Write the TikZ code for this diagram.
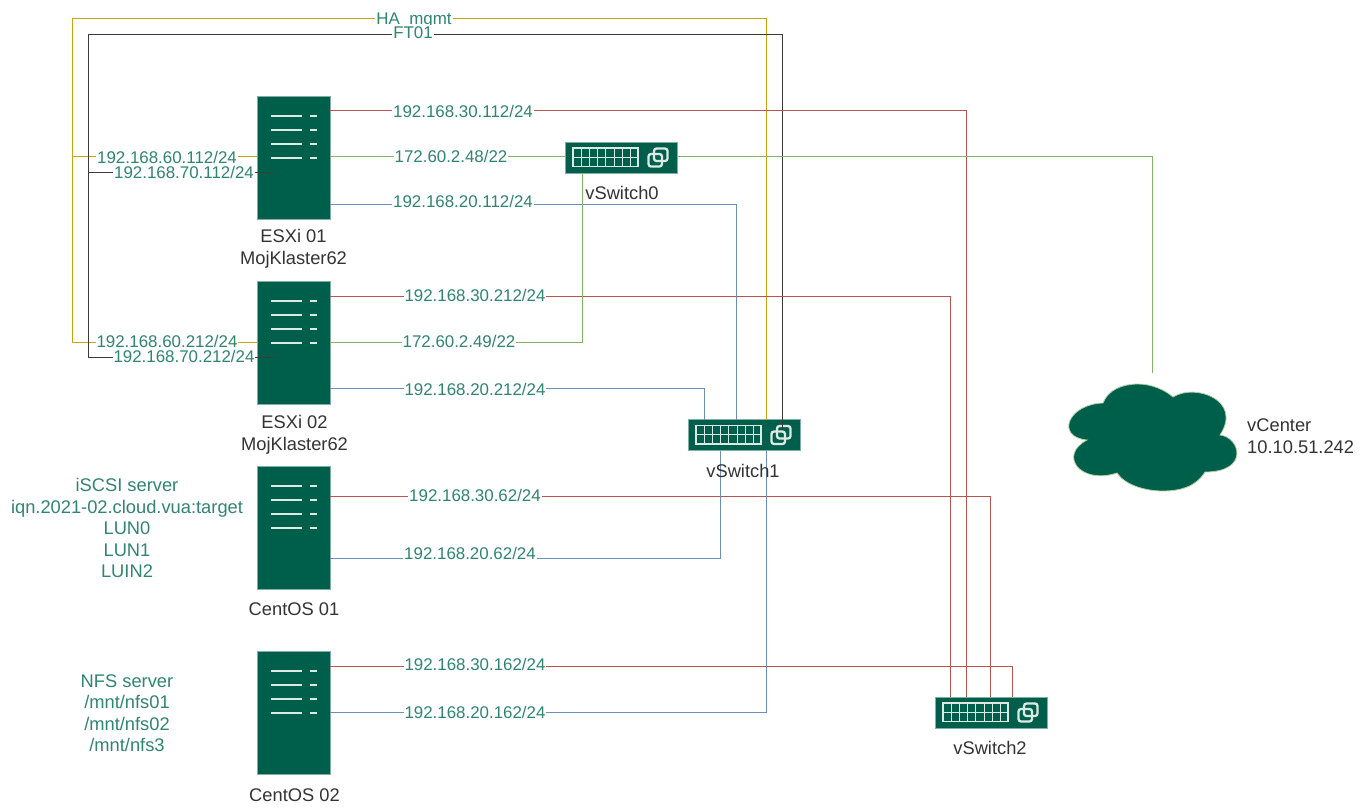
\documentclass[tikz,border=0pt]{standalone}
\usepackage{fontspec}
\setmainfont{Liberation Sans}
\usetikzlibrary{calc}
\definecolor{veeam}{HTML}{005F4B}
\definecolor{edgeg}{HTML}{7FAFA5}
\definecolor{mark}{HTML}{DCE9E5}
\definecolor{labelg}{HTML}{2F8570}
\definecolor{capt}{HTML}{333333}
\definecolor{lred}{HTML}{B85450}
\definecolor{lgreen}{HTML}{82B366}
\definecolor{lblue}{HTML}{6C8EBF}
\definecolor{lyellow}{HTML}{C8A415}
\definecolor{ldark}{HTML}{3A3A3A}
\tikzset{
  serverbox/.style={draw=edgeg,fill=veeam,line width=.8pt,minimum width=73pt,minimum height=123pt,inner sep=0pt,outer sep=0pt},
  switchbox/.style={draw=edgeg,fill=veeam,line width=.8pt,minimum width=112.5pt,minimum height=31pt,inner sep=0pt,outer sep=0pt},
  lab/.style={fill=white,text=labelg,font=\fontsize{16.9}{17}\selectfont,inner xsep=1pt,inner ysep=1pt,text height=11.5pt,text depth=0pt},
  captn/.style={text=capt,font=\fontsize{18.3}{21.5}\selectfont,align=center,inner sep=0pt},
  glab/.style={text=labelg,font=\fontsize{18.3}{21.5}\selectfont,align=center,inner sep=0pt},
  wire/.style={line width=1.7pt,line join=miter},
  wred/.style={wire,draw=lred},
  wgreen/.style={wire,draw=lgreen},
  wblue/.style={wire,draw=lblue},
  wyellow/.style={wire,draw=lyellow},
  wdark/.style={wire,draw=ldark,line width=1.3pt},
  bar/.style={draw=mark,line width=2pt},
  gridl/.style={draw=mark,line width=1.2pt},
}
\newcommand{\ServerBox}[3]{%
  \node[serverbox] (#1) at (#2,#3) {};
  \foreach \r in {20,34,48,62}{
    \draw[bar] ($(#1.north west)+(14,\r)$) -- ($(#1.north west)+(45,\r)$);
    \draw[bar] ($(#1.north west)+(52.5,\r)$) -- ($(#1.north west)+(60,\r)$);
  }}
\newcommand{\SwitchBox}[3]{%
  \node[switchbox] (#1) at (#2,#3) {};
  \begin{scope}[shift={(#1.north west)}]
    \draw[gridl] (8,6) rectangle (73,24.5);
    \draw[gridl] (8,15.2) -- (73,15.2);
    \foreach \c in {16,24,32,40.5,49,57,65}{\draw[gridl,line width=.9pt] (\c,6) -- (\c,24.5);}
    \draw[draw=mark,line width=2.3pt,rounded corners=2.5pt] (89,6.5) rectangle (102.5,19);
    \draw[draw=mark,line width=2.3pt,rounded corners=2.5pt] (83.5,12) rectangle (97,24.5);
  \end{scope}}
\begin{document}
\begin{tikzpicture}[x=1pt,y=-1pt]
\useasboundingbox (0,0) rectangle (1370,807);
% servers and switches
\ServerBox{e1}{293.5}{157.5}
\ServerBox{e2}{293.5}{342.5}
\ServerBox{c1}{293.5}{527.5}
\ServerBox{c2}{293.5}{712.5}
\SwitchBox{sw0}{621.25}{157.5}
\SwitchBox{sw1}{744.25}{435}
\SwitchBox{sw2}{991.25}{712.5}
% cloud
\fill[veeam,draw=lgreen!60!white,line width=.8pt] (1103,403)
  .. controls (1108,390) and (1122,384) .. (1138,384)
  .. controls (1152,384) and (1165,390) .. (1173,397)
  .. controls (1195,383) and (1243,400) .. (1220,435)
  .. controls (1240,437) and (1250,472) .. (1205,472)
  .. controls (1195,488) and (1178,491) .. (1163,491)
  .. controls (1145,491) and (1125,485) .. (1117,473)
  .. controls (1080,485) and (1058,455) .. (1087,440)
  .. controls (1055,437) and (1068,404) .. (1103,403) -- cycle;
\coordinate (cloudtop) at (1152.5,373);
% yellow
\draw[wyellow] (sw1.north -| 766.5,0) -- (766.5,18.5) -- (72.5,18.5) -- (72.5,342.5) -- ($(e2.north west)+(0,61.5)$);
\draw[wyellow] ($(e1.north west)+(0,60.5)$) -- (72.5,156.5);
\node[lab] (lha) at (414,18.5) {HA\_mgmt};
% dark
\draw[wdark] ($(sw1.north west)+(94.5,9)$) -- (782.5,34.5) -- (88.5,34.5) -- (88.5,357.5) -- ($(e2.north west)+(16,76.5)$);
\draw[wdark] ($(e1.north west)+(16,76.5)$) -- (88.5,172.5);
\node[lab,inner ysep=2.5pt] (lft) at (413,33) {FT01};
% red
\draw[wred] ($(e1.north east)+(0,14.5)$) -| ($(sw2.north west)+(31.5,0)$);
\draw[wred] ($(e2.north east)+(0,15.5)$) -| ($(sw2.north west)+(15.5,0)$);
\draw[wred] ($(c1.north east)+(0,30.5)$) -| ($(sw2.north west)+(55.5,0)$);
\draw[wred] ($(c2.north east)+(0,15.5)$) -| ($(sw2.north west)+(77.5,0)$);
% blue
\draw[wblue] ($(e1.north east)+(0,108.5)$) -| ($(sw1.north west)+(48.5,0)$);
\draw[wblue] ($(e2.north east)+(0,107.5)$) -| ($(sw1.north west)+(16.5,0)$);
\draw[wblue] ($(c1.north east)+(0,92.5)$) -| ($(sw1.south west)+(32.5,0)$);
\draw[wblue] ($(c2.north east)+(0,61.5)$) -| ($(sw1.south west)+(78.5,0)$);
% green
\draw[wgreen] ($(e1.north east)+(0,60.5)$) -- ($(sw0.north west)+(0,14.5)$);
\draw[wgreen] ($(e2.north east)+(0,61.5)$) -| ($(sw0.south west)+(17.5,0)$);
\draw[wgreen] ($(sw0.north east)+(0,14.5)$) -| (cloudtop);
% address labels
\node[lab] (a1) at (167,157.5) {192.168.60.112/24};
\node[lab] (a2) at (184,172.5) {192.168.70.112/24};
\node[lab] (a3) at (167,342) {192.168.60.212/24};
\node[lab] (a4) at (184,357) {192.168.70.212/24};
\node[lab] (b1) at (463,112) {192.168.30.112/24};
\node[lab] (b2) at (451,157) {172.60.2.48/22};
\node[lab] (b3) at (463,202) {192.168.20.112/24};
\node[lab] (b4) at (475,296) {192.168.30.212/24};
\node[lab] (b5) at (459,342) {172.60.2.49/22};
\node[lab] (b6) at (475,390) {192.168.20.212/24};
\node[lab] (b7) at (475,496) {192.168.30.62/24};
\node[lab] (b8) at (470,554) {192.168.20.62/24};
\node[lab] (b9) at (475,665) {192.168.30.162/24};
\node[lab] (b10) at (475,713) {192.168.20.162/24};
% captions
\node[captn] (te1) at (293.5,249) {ESXi 01\\MojKlaster62};
\node[captn] (te2) at (294.5,435) {ESXi 02\\MojKlaster62};
\node[captn] (tc1) at (294,609) {CentOS 01};
\node[captn] (tc2) at (294.5,795) {CentOS 02};
\node[captn] (ts0) at (622,193) {vSwitch0};
\node[captn] (ts1) at (743,471) {vSwitch1};
\node[captn] (ts2) at (990,748) {vSwitch2};
\node[captn,align=left,anchor=west] (tv) at (1247,436) {vCenter\\10.10.51.242};
\node[glab] (ti) at (127,528) {iSCSI server\\iqn.2021-02.cloud.vua:target\\LUN0\\LUN1\\LUIN2};
\node[glab] (tn) at (127,713) {NFS server\\/mnt/nfs01\\/mnt/nfs02\\/mnt/nfs3};
\end{tikzpicture}
\end{document}
